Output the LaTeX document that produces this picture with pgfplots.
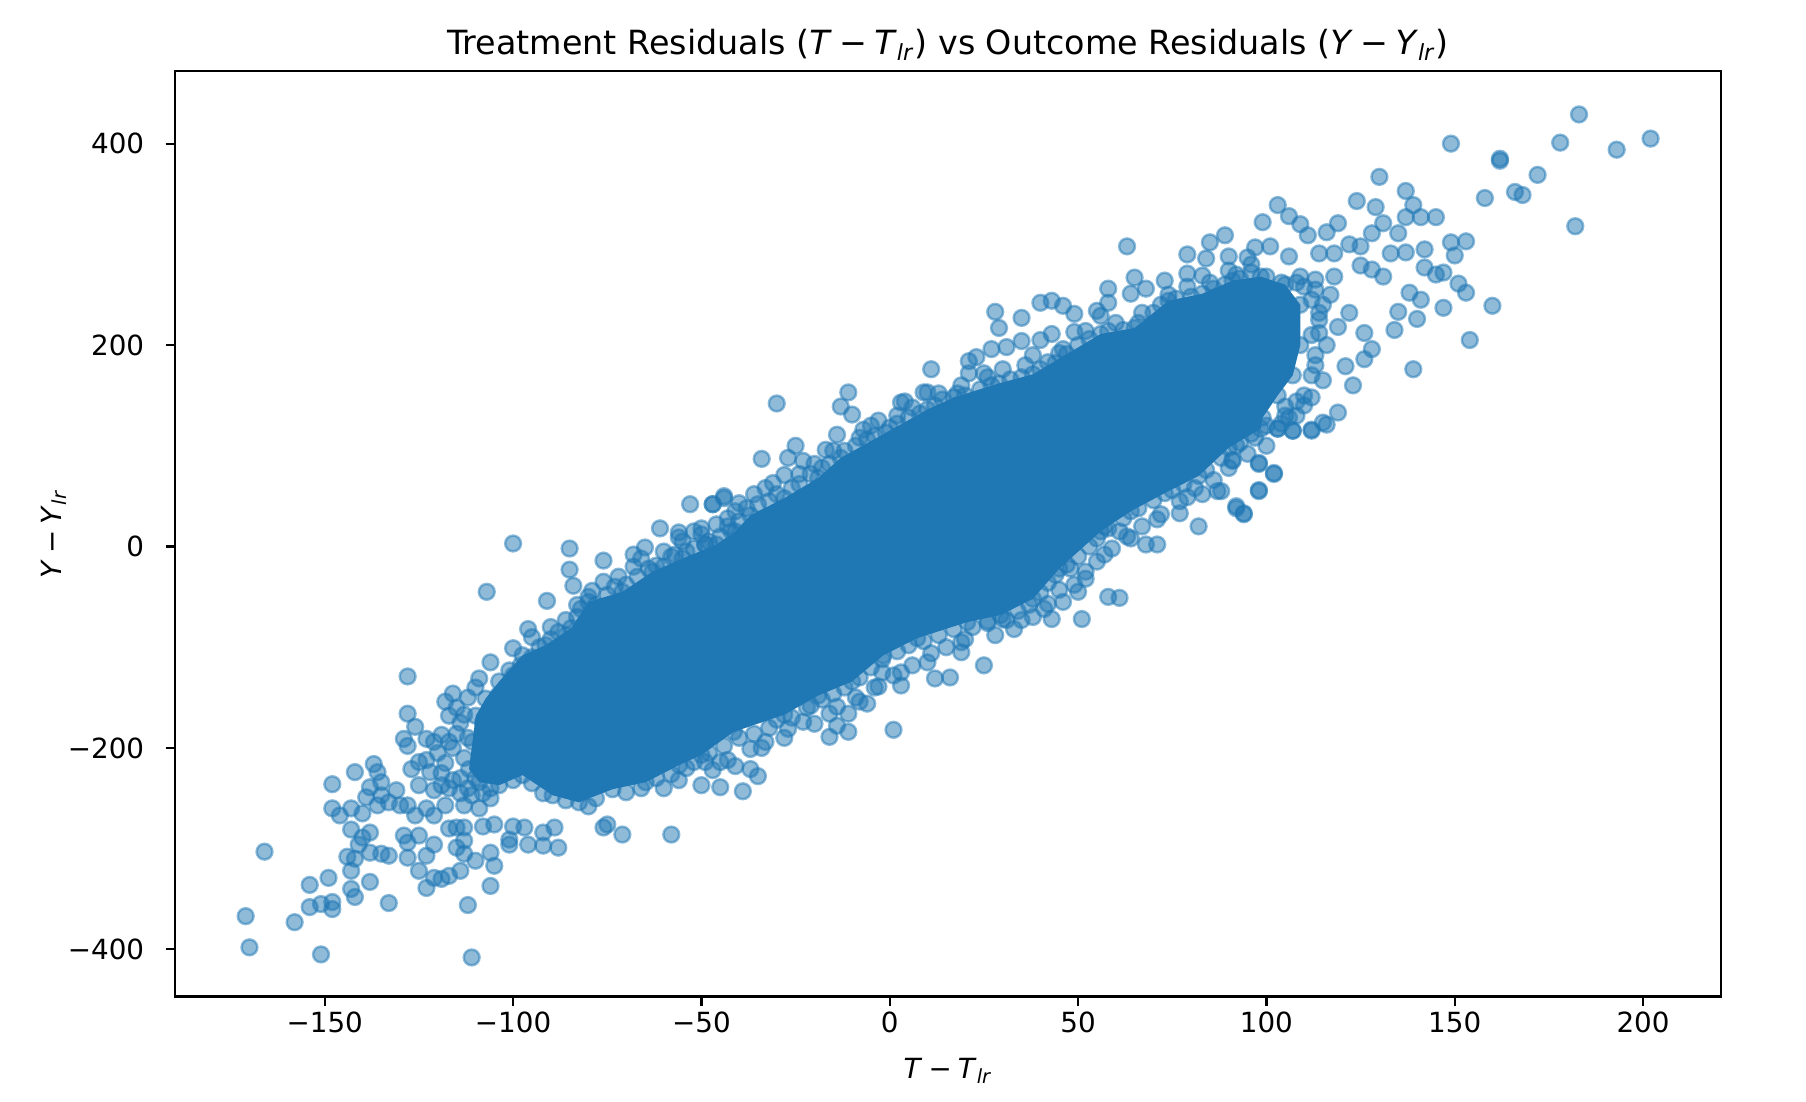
\documentclass[border=0pt]{standalone}
\usepackage{fontspec}
\setmainfont{DejaVu Sans}[ItalicFont={DejaVu Sans Oblique}]
\usepackage{pgfplots}
\pgfplotsset{compat=1.18}
\definecolor{mplblue}{HTML}{1F77B4}
\newcommand{\mi}[1]{\textit{#1}}
\newcommand{\mm}{\hspace{0.22em}−\hspace{0.22em}}
\begin{document}
\begin{tikzpicture}
\begin{axis}[name=ax,
  scale only axis, width=556.6pt, height=333.1pt,
  xmin=-189.7, xmax=220.7, ymin=-446.75, ymax=471.75,
  xtick={-150,-100,-50,0,50,100,150,200},
  xticklabels={−150,−100,−50,0,50,100,150,200},
  ytick={-400,-200,0,200,400},
  yticklabels={−400,−200,0,200,400},
  tick align=outside, tick pos=left, major tick length=3.5pt,
  every tick/.style={black, line width=0.8pt},
  axis line style={line width=0.8pt},
  ticklabel style={font=\fontsize{10}{12}\selectfont, inner sep=0pt},
  xticklabel style={anchor=base, yshift=-9.3pt},
  yticklabel style={anchor=east, xshift=-7.5pt},
  title={Treatment Residuals (\mi{T}\mm\mi{T}\textsubscript{\mi{lr}}) vs Outcome Residuals (\mi{Y}\mm\mi{Y}\textsubscript{\mi{lr}})},
  title style={at={(axis description cs:0.5,0.9997)}, anchor=base, font=\fontsize{12}{14}\selectfont, inner sep=0pt},
  xlabel={\mi{T}\mm\mi{T}\textsubscript{\mi{lr}}},
  xlabel style={at={(axis description cs:0.5,-0.0889)}, anchor=base, font=\fontsize{10}{12}\selectfont, inner sep=0pt},
  ylabel={\mi{Y}\mm\mi{Y}\textsubscript{\mi{lr}}},
  ylabel style={at={(axis description cs:-0.0737,0.5)}, anchor=base, font=\fontsize{10}{12}\selectfont, inner sep=0pt},
]
% saturated core of the cloud
\addplot[fill=mplblue, draw=none] coordinates {
(-111.7,-221) (-110.8,-194) (-109.9,-168) (-107.3,-151) (-103.7,-134) (-97.5,-108) (-91.4,-98) (-84.6,-81) (-80,-55) (-71,-45) (-63,-25) (-55,-12) (-46,2) (-41,15) (-37,31) (-28,48) (-19,68) (-13,88) (-1,113) (10,136) (17,148) (29,162) (38,171) (47,191) (56,211) (65,217) (74,244) (83,251) (91,264) (98.5,268) (105,260) (109,240) (109,200) (107,170) (103,150) (99,128) (98.5,117) (90,98) (82,70) (73,53) (64,35) (56,15) (45,-22) (38,-52) (29.4,-68) (20.6,-75) (7.3,-91) (-1.7,-108) (-10,-134) (-19,-148) (-28,-167) (-41.4,-184) (-50,-207) (-55.9,-217) (-64.8,-234) (-73.6,-241) (-82.5,-254) (-89.5,-247) (-97.5,-227) (-103.7,-237) (-109,-234)
} -- cycle;
% individual points
\addplot[only marks, mark=*, mark size=2.85pt, mark options={draw=mplblue, fill=mplblue, fill opacity=0.5, draw opacity=0.5, line width=0.9pt}] table {
x y
-111.7 -221
-110.8 -194
-109.9 -168
-107.3 -151
-103.7 -134
-97.5 -108
-91.4 -98
-84.6 -81
-80 -55
-71 -45
-63 -25
-55 -12
-46 2
-41 15
-37 31
-28 48
-19 68
-13 88
-1 113
10 136
17 148
29 162
38 171
47 191
56 211
65 217
74 244
83 251
91 264
98.5 268
105 260
109 240
109 200
107 170
103 150
99 128
98.5 117
90 98
82 70
73 53
64 35
56 15
45 -22
38 -52
29.4 -68
20.6 -75
7.3 -91
-1.7 -108
-10 -134
-19 -148
-28 -167
-41.4 -184
-50 -207
-55.9 -217
-64.8 -234
-73.6 -241
-82.5 -254
-89.5 -247
-97.5 -227
-103.7 -237
-109 -234
-108 -175
-105 -160
-104 -148
-100 -128
-98 -118
-95 -110
-93 -100
-90 -92
-88 -85
-86 -88
-83 -70
-82 -62
-80 -50
-78 -58
-75 -48
-73 -40
-70 -38
-67 -30
-64 -22
-60 -20
-58 -10
-54 -5
-52 -2
-48 5
-45 10
-43 20
-40 25
-38 38
-35 42
-32 45
-30 52
-26 58
-24 62
-21 72
-18 78
-16 82
-12 95
-9 100
-6 106
-4 110
0 118
2 122
5 128
8 132
12 140
14 146
20 150
24 156
27 160
32 166
35 168
40 176
44 182
46 196
50 200
53 206
58 214
62 215
66 222
70 232
72 240
76 246
80 248
86 256
89 260
93 266
96 272
100 268
104 262
-110 -230
-106 -240
-100 -232
-95 -235
-92 -245
-86 -252
-80 -258
-78 -250
-70 -244
-66 -240
-62 -230
-58 -226
-54 -220
-52 -214
-48 -205
-44 -198
-40 -190
-36 -186
-32 -180
-30 -172
-26 -170
-22 -160
-18 -152
-15 -146
-12 -140
-8 -130
-5 -120
-2 -112
2 -104
5 -98
9 -94
13 -88
17 -82
22 -80
26 -74
30 -72
34 -64
37 -58
40 -46
42 -36
44 -28
47 -18
50 -10
53 0
55 8
58 18
62 28
66 38
70 46
75 56
78 62
84 76
88 88
92 100
96 112
100 120
104 122
108 130
110 150
112 170
113 190
112 210
112 245
108 262
-114 -230
-113 -210
-112 -190
-114 -175
-116 -200
-118 -215
-112 -240
-108 -245
-116 -232
-114 -245
-117 -168
-115 -160
-112 -150
-110 -140
-119 -225
-120 -205
-117 -240
109 268
113 255
115 240
114 225
116 200
113 180
115 165
110 140
106 128
117 250
118 268
-60 -240
-56 -232
-47 -222
-43 -212
-34 -200
-28 -190
-20 -176
-16 -166
-9 -150
-4 -140
1 -128
6 -118
11 -106
15 -100
20 -92
28 -88
33 -82
38 -70
41 -62
46 -55
49 -38
52 -25
55 -15
59 -2
63 10
67 20
72 32
77 45
81 58
86 66
90 78
95 92
100 100
-95 -90
-90 -80
-83 -58
-76 -35
-68 -20
-60 -5
-55 5
-50 12
-46 22
-41 35
-36 52
-33 58
-24 72
-20 82
-15 95
-8 108
-5 120
2 130
6 138
13 152
19 160
25 172
30 176
36 180
45 192
52 214
60 222
67 232
74 250
79 258
85 262
92 270
96 280
-100 3
-85 -2
-85 -23
-84 -39
-76 -14
-68 -8
-65 -1
-107 -45
-91 -54
-86 -73
-96 -82
-72 -30
-79 -44
-128 -129
-106 -115
-101 -123
-100 -101
-109 -131
-116 -146
-118 -154
-113 -167
-128 -166
-126 -179
-129 -191
-128 -198
-123 -191
-121 -194
-119 -187
-117 -194
-115 -186
-127 -221
-125 -214
-123 -212
-122 -224
-137 -216
-136 -224
-135 -234
-138 -239
-139 -249
-135 -247
-133 -254
-136 -257
-142 -224
-148 -236
-148 -260
-146 -267
-143 -260
-140 -265
-143 -281
-140 -289
-138 -284
-141 -296
-144 -308
-142 -310
-143 -322
-143 -340
-142 -348
-138 -333
-138 -304
-135 -305
-133 -307
-149 -329
-154 -336
-154 -358
-151 -355
-148 -353
-148 -360
-158 -373
-171 -367
-170 -398
-166 -303
-151 -405
-133 -354
-111 -408
-112 -356
-106 -337
-128 -294
-129 -287
-125 -287
-121 -296
-125 -322
-123 -339
-121 -329
-119 -330
-117 -327
-114 -322
-128 -309
-123 -307
-117 -280
-115 -279
-113 -279
-115 -299
-113 -305
-113 -292
-110 -312
-106 -304
-105 -317
-108 -278
-105 -276
-101 -296
-100 -278
-97 -279
-96 -296
-92 -297
-88 -299
-89 -279
-92 -284
-101 -291
-76 -279
-71 -286
-58 -286
-75 -276
-125 -237
-121 -242
-119 -237
-118 -257
-123 -260
-126 -267
-130 -257
-131 -242
-128 -257
-121 -267
-113 -257
-111 -247
-109 -260
-106 -250
-30 142
-34 87
-11 153
-13 139
-10 131
9 153
3 143
-25 100
-27 88
-47 42
-44 48
-31 63
-28 71
-23 85
-17 96
-14 111
-7 116
-3 125
-50 18
-49 2
25 -118
12 -131
16 -130
3 -138
1 -182
-11 -166
-11 -184
-16 -189
-14 -178
-6 -156
-45 -239
-39 -243
-35 -228
-37 -221
-41 -218
-50 -237
43 -72
51 -72
50 -45
52 -32
42 -57
45 -43
48 -22
57 20
61 15
35 -73
31 -73
26 -76
19 -105
19 -95
10 -115
-2 -125
3 -125
-3 -139
-8 -154
-14 -159
-21 -158
-23 -174
-27 -181
-33 -194
-37 -201
-45 -214
-49 -214
183 429
202 405
193 394
178 401
149 400
162 383
162 385
172 369
158 346
166 352
168 349
182 318
130 367
137 353
124 343
129 337
139 339
137 327
141 327
145 327
131 321
103 339
99 322
106 328
109 320
111 309
116 312
119 321
89 309
128 311
135 311
133 291
137 292
142 295
149 302
153 303
150 289
142 277
145 270
147 272
151 261
153 252
160 239
154 205
139 176
147 237
141 245
138 252
140 226
134 215
135 233
126 212
128 196
126 186
121 179
123 160
119 133
115 123
112 116
107 115
103 117
105 130
98 82
102 72
98 55
91 86
92 40
94 33
88 55
131 268
128 275
125 279
122 300
125 298
114 291
118 291
113 265
110 258
114 232
114 212
119 218
122 232
112 148
108 144
105 139
101 298
97 297
95 287
90 288
106 288
63 298
85 302
79 290
84 286
90 274
79 271
83 269
65 267
68 256
73 264
58 256
64 251
58 242
49 231
46 239
43 244
40 242
55 234
35 227
28 233
29 217
40 205
43 211
35 204
31 198
27 196
23 188
21 184
21 172
11 176
10 153
18 152
4 144
26 168
38 190
42 183
49 213
56 229
61 204
-66 -12
-62 -19
-61 18
-56 14
-56 9
-52 15
-49 2
-53 42
-47 42
-44 50
-40 43
-57 -8
-43 28
-42 15
58 -50
61 -51
71 2
68 2
64 8
57 -8
82 20
77 33
92 38
94 32
98 56
98 83
102 73
87 55
83 52
79 49
71 27
91 85
107 115
112 115
103 117
116 121
97 108
93 103
};
\end{axis}
\pgfresetboundingbox
\path[use as bounding box] ([shift={(-63.1pt,-37.9pt)}]ax.south west) rectangle ([shift={(30.6pt,25.7pt)}]ax.north east);
\end{tikzpicture}
\end{document}
